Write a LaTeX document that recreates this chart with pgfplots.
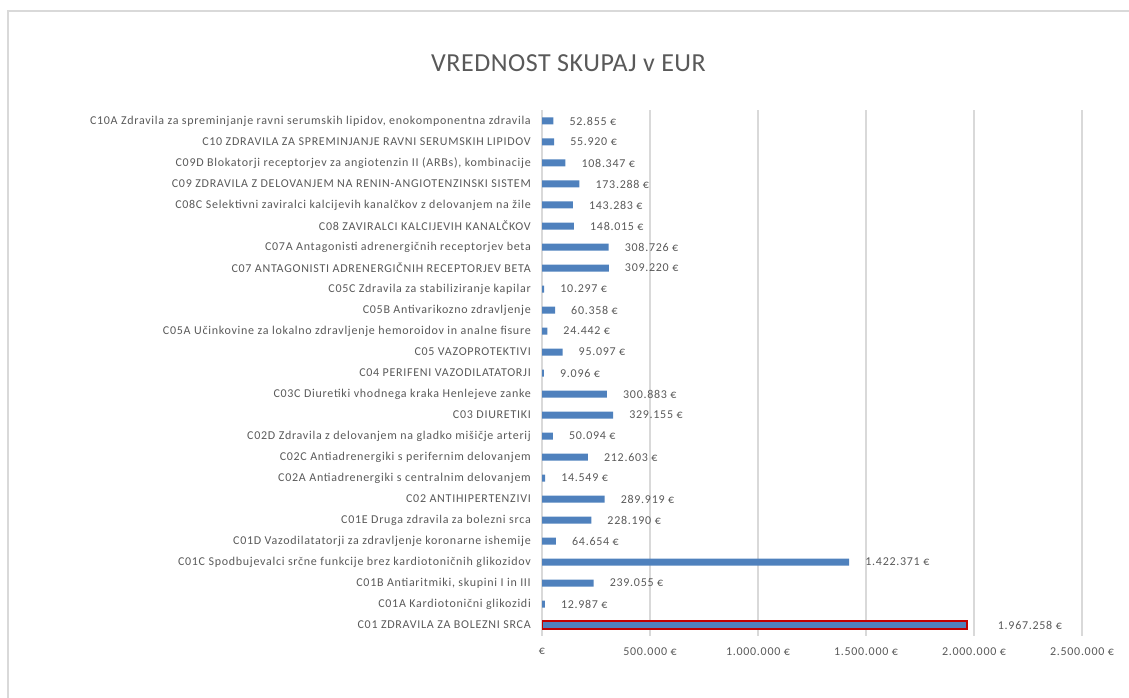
\documentclass[border=0pt]{standalone}
\usepackage{pgfplots}
\pgfplotsset{compat=1.18}
\usepackage{fontspec}
\setmainfont{Carlito}
\newfontfamily\lbl[LetterSpace=6]{Carlito}
\newfontfamily\ttl[LetterSpace=2]{Carlito}
\definecolor{barblue}{HTML}{4F81BD}
\definecolor{txt}{HTML}{595959}
\definecolor{gridc}{HTML}{D9D9D9}
\definecolor{dred}{HTML}{C00000}
\begin{document}
\begin{tikzpicture}
\path[use as bounding box] (0pt,0pt) rectangle (1129pt,697pt);
\draw[gridc, line width=1.5pt] (8pt,-5pt) -- (8pt,686pt) -- (1135pt,686pt);
\node[txt, font=\ttl\fontsize{26}{30}\selectfont] at (568.5pt,634pt) {VREDNOST SKUPAJ v EUR};
\begin{axis}[
  at={(542pt,61.5pt)}, anchor=south west, scale only axis,
  width=540pt, height=525pt,
  xmin=0, xmax=2500000, ymin=-0.5, ymax=24.5,
  xbar, bar width=7pt, bar shift=0pt,
  axis line style={draw=none}, major tick length=0pt,
  xmajorgrids, grid style={gridc, line width=1.5pt},
  scaled x ticks=false,
  xtick={0,500000,1000000,1500000,2000000,2500000},
  xticklabels={€, 500.000 €, 1.000.000 €, 1.500.000 €, 2.000.000 €, 2.500.000 €},
  ytick={0,1,2,3,4,5,6,7,8,9,10,11,12,13,14,15,16,17,18,19,20,21,22,23,24},
  yticklabels={
    C01 ZDRAVILA ZA BOLEZNI SRCA,
    C01A Kardiotonični glikozidi,
    {C01B Antiaritmiki, skupini I in III},
    C01C Spodbujevalci srčne funkcije brez kardiotoničnih glikozidov,
    C01D Vazodilatatorji za zdravljenje koronarne ishemije,
    C01E Druga zdravila za bolezni srca,
    C02 ANTIHIPERTENZIVI,
    C02A Antiadrenergiki s centralnim delovanjem,
    C02C Antiadrenergiki s perifernim delovanjem,
    C02D Zdravila z delovanjem na gladko mišičje arterij,
    C03 DIURETIKI,
    C03C Diuretiki vhodnega kraka Henlejeve zanke,
    C04 PERIFENI VAZODILATATORJI,
    C05 VAZOPROTEKTIVI,
    C05A Učinkovine za lokalno zdravljenje hemoroidov in analne fisure,
    C05B Antivarikozno zdravljenje,
    C05C Zdravila za stabiliziranje kapilar,
    C07 ANTAGONISTI ADRENERGIČNIH RECEPTORJEV BETA,
    C07A Antagonisti adrenergičnih receptorjev beta,
    C08 ZAVIRALCI KALCIJEVIH KANALČKOV,
    C08C Selektivni zaviralci kalcijevih kanalčkov z delovanjem na žile,
    C09 ZDRAVILA Z DELOVANJEM NA RENIN-ANGIOTENZINSKI SISTEM,
    {C09D Blokatorji receptorjev za angiotenzin II (ARBs), kombinacije},
    C10 ZDRAVILA ZA SPREMINJANJE RAVNI SERUMSKIH LIPIDOV,
    {C10A Zdravila za spreminjanje ravni serumskih lipidov, enokomponentna zdravila}},
  tick label style={txt, font=\lbl\fontsize{12}{14}\selectfont},
  yticklabel style={anchor=east, inner sep=0pt, xshift=-11pt},
  xticklabel style={anchor=north, inner sep=0pt, yshift=-12pt},
  point meta=x,
  /pgf/number format/assume math mode=true,
  nodes near coords={\pgfmathprintnumber[fixed,precision=0,1000 sep={.}]{\pgfplotspointmeta}~€},
  nodes near coords style={txt, font=\lbl\fontsize{12}{14}\selectfont, anchor=west, inner sep=0pt, xshift=16pt},
]
\addplot[fill=barblue, draw=none] coordinates {
(12987,1) (239055,2) (1422371,3) (64654,4) (228190,5) (289919,6) (14549,7)
(212603,8) (50094,9) (329155,10) (300883,11) (9096,12) (95097,13) (24442,14)
(60358,15) (10297,16) (309220,17) (308726,18) (148015,19) (143283,20)
(173288,21) (108347,22) (55920,23) (52855,24)};
\addplot[fill=barblue, draw=dred, line width=2pt, bar width=8pt,
  nodes near coords style={xshift=14pt}] coordinates {(1967258,0)};
\end{axis}
\end{tikzpicture}
\end{document}
